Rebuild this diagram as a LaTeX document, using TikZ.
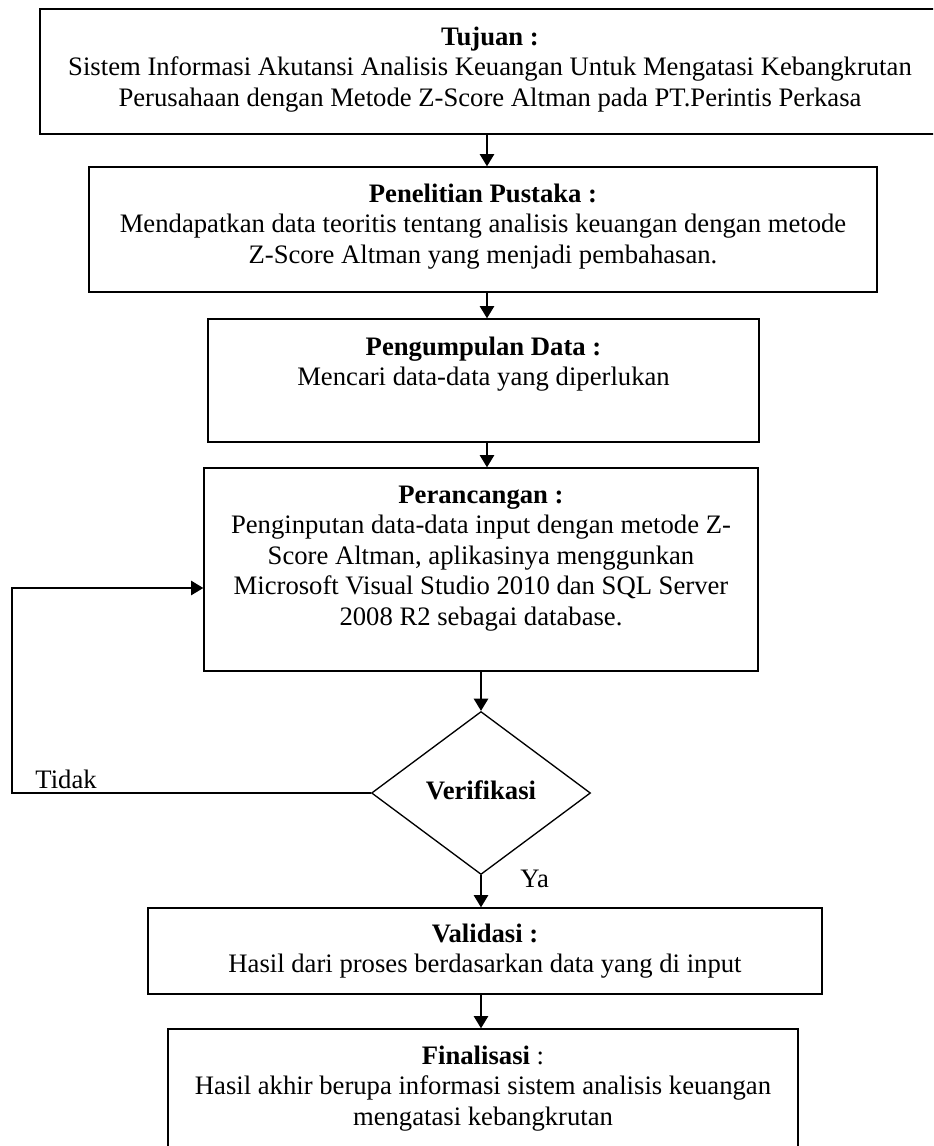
\documentclass[tikz,border=0pt]{standalone}
\usepackage{fontspec}
\setmainfont{Liberation Serif}
\usetikzlibrary{arrows.meta,shapes.geometric}
\newcommand\firststrut{\rule{0pt}{9pt}}
\begin{document}
\begin{tikzpicture}[x=0.45pt,y=-0.45pt,
  box/.style={draw=black,line width=0.65pt,inner sep=0pt,rectangle},
  txt/.style={align=center,anchor=north,inner sep=0pt,font=\fontsize{12pt}{13.7pt}\selectfont},
  lbl/.style={anchor=base west,inner sep=0pt,font=\fontsize{12pt}{13.7pt}\selectfont},
  arr/.style={line width=0.65pt,-{Triangle[length=5.5pt,width=6.5pt]}}]
\useasboundingbox (0,0) rectangle (933,1146);
\fill[white] (0,0) rectangle (933,1146);
\clip (0,0) rectangle (933,1146);

% boxes
\node[box,minimum width=405pt,minimum height=56.25pt] (b1) at (490,71.5) {};
\node[box,minimum width=354.6pt,minimum height=56.25pt] (b2) at (483,229.5) {};
\node[box,minimum width=247.95pt,minimum height=55.35pt] (b3) at (483.5,380.5) {};
\node[box,minimum width=249.3pt,minimum height=91.35pt] (b4) at (481,569.5) {};
\node[draw=black,diamond,line width=0.6pt,inner sep=0pt,minimum width=98.55pt,minimum height=73.35pt] (d) at (481,793) {};
\node[box,minimum width=303.3pt,minimum height=38.7pt] (b5) at (485,951) {};
\node[box,minimum width=283.5pt,minimum height=58.95pt] (b6) at (483,1094.5) {};

% texts
\node[txt] (t1) at (490,25) {\firststrut\textbf{Tujuan :}\\Sistem Informasi Akutansi Analisis Keuangan Untuk Mengatasi Kebangkrutan\\Perusahaan dengan Metode Z-Score Altman pada PT.Perintis Perkasa};
\node[txt] (t2) at (483,182) {\firststrut\textbf{Penelitian Pustaka :}\\Mendapatkan data teoritis tentang analisis keuangan dengan metode\\Z-Score Altman yang menjadi pembahasan.};
\node[txt] (t3) at (483.5,335) {\firststrut\textbf{Pengumpulan Data :}\\Mencari data-data yang diperlukan};
\node[txt] (t4) at (481,483) {\firststrut\textbf{Perancangan :}\\Penginputan data-data input dengan metode Z-\\Score Altman, aplikasinya menggunkan\\Microsoft Visual Studio 2010 dan SQL Server\\2008 R2 sebagai database.};
\node[anchor=base,inner sep=0pt,font=\fontsize{12pt}{13.7pt}\selectfont] (tv) at (481,799) {\textbf{Verifikasi}};
\node[txt] (t5) at (485,922) {\firststrut\textbf{Validasi :}\\Hasil dari proses berdasarkan data yang di input};
\node[txt] (t6) at (483,1044) {\firststrut\textbf{Finalisasi} :\\Hasil akhir berupa informasi sistem analisis keuangan\\mengatasi kebangkrutan};
\node[lbl] (tidak) at (35,788) {Tidak};
\node[lbl] (ya) at (520,887) {Ya};

% helper coordinates
\coordinate (axis) at (487,0);
\coordinate (loop) at (12,588);

% connectors
\draw[arr] (b1.south -| axis) -- (b2.north -| axis);
\draw[arr] (b2.south -| axis) -- (b3.north -| axis);
\draw[arr] (b3.south -| axis) -- (b4.north -| axis);
\draw[arr] (b4.south -| d.north) -- (d.north);
\draw[arr] (d.south) -- (b5.north -| d.south);
\draw[arr] (b5.south -| d.south) -- (b6.north -| d.south);
\draw[arr] (d.west) -| (loop) -- (loop -| b4.west);
\end{tikzpicture}
\end{document}
